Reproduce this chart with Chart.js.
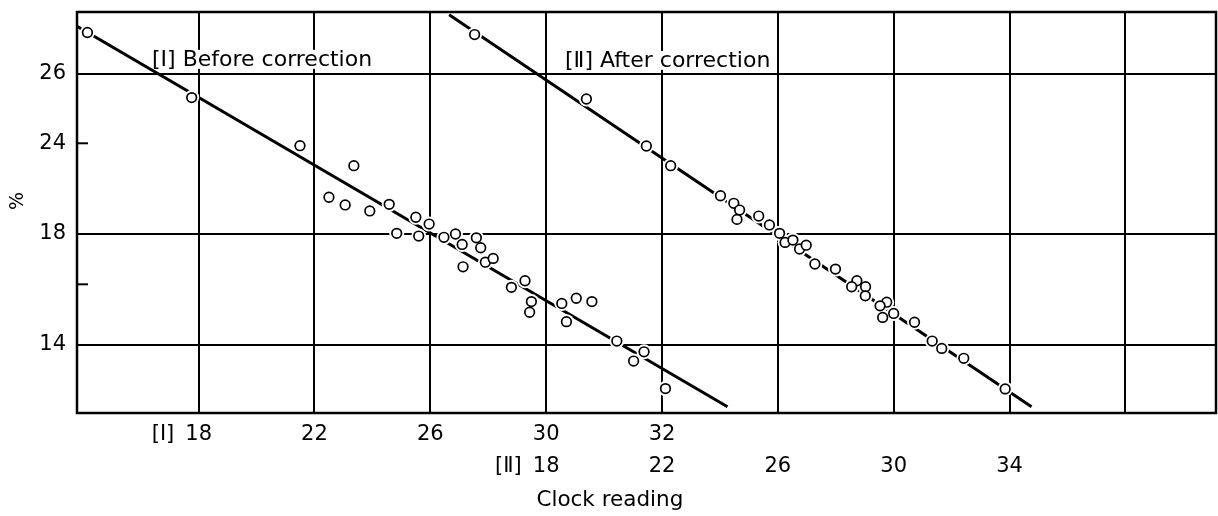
<!DOCTYPE html>
<html>
<head>
<meta charset="utf-8">
<script src="https://cdn.jsdelivr.net/npm/chart.js@4.4.1/dist/chart.umd.min.js"></script>
<style>
  html, body { margin: 0; padding: 0; background: #fff; }
  #wrap { width: 1218px; height: 516px; }
</style>
</head>
<body>
<div id="wrap"><canvas id="chart"></canvas></div>
<script>
// --- 1. Data ---
// [I] before correction: clock reading (scale I) vs moisture %
const beforeClock = [14.16, 17.76, 21.50, 23.36, 22.50, 23.06, 23.91, 24.58, 25.50, 25.96, 24.84,
  25.60, 26.47, 26.87, 27.10, 27.59, 27.74, 27.13, 27.90, 28.17, 28.80, 29.27, 29.49, 29.43,
  30.27, 30.52, 30.79, 30.35, 31.22, 31.69, 31.51, 32.06];
const beforeMoisture = [27.20, 25.31, 23.84, 22.51, 20.41, 19.90, 19.50, 19.94, 19.08, 18.63, 18.01,
  17.90, 17.85, 17.98, 17.57, 17.83, 17.44, 16.69, 16.87, 17.02, 15.90, 16.14, 15.43, 15.08,
  15.37, 15.54, 15.43, 14.77, 14.13, 13.78, 13.48, 12.59];

// [II] after correction: clock reading (scale II) vs moisture %
const afterClock = [15.53, 19.39, 21.46, 22.30, 24.02, 24.48, 24.68, 24.59, 25.34, 25.71, 26.06,
  26.25, 26.52, 26.75, 26.98, 27.28, 27.99, 28.73, 28.55, 29.03, 29.02, 29.76, 29.53, 30.00,
  29.62, 30.72, 31.33, 31.66, 32.42, 33.85];
const afterMoisture = [27.14, 25.27, 23.82, 22.51, 20.51, 20.01, 19.56, 18.94, 19.16, 18.57, 18.01,
  17.65, 17.74, 17.39, 17.54, 16.80, 16.60, 16.14, 15.92, 15.92, 15.62, 15.41, 15.29, 15.04,
  14.91, 14.75, 14.13, 13.89, 13.57, 12.58];

// fitted straight lines (end points)
const beforeFitClock = [13.8, 33.13];
const beforeFitMoisture = [27.38, 12.0];
const afterFitClock = [14.65, 34.76];
const afterFitMoisture = [27.72, 12.0];

// tick labels
const moistureTicks = [14, 16, 18, 24, 26];
const moistureLabels = ["14", "", "18", "24", "26"];
const moistureGrid = [14, 18, 26];
const clockTicksI = [18, 22, 26, 30, 32];
const clockTicksII = [18, 22, 26, 30, 34];
const clockGridII = [6, 10, 14, 18, 22, 26, 30, 34, 38];

const notes = [
  { text: "[Ⅰ] Before correction", clock: 4.39, moisture: 26.40 },
  { text: "[Ⅱ] After correction", clock: 18.65, moisture: 26.37 }
];

// --- 2. Axis geometry: the printed scales are not evenly spaced ---
const rangeII = [1.8, 41.13];
const fracII = v => (v - rangeII[0]) / (rangeII[1] - rangeII[0]);
const knots = {
  // scale I lines up with scale II: I 30 = II 18, I 32 = II 22
  x: { values: [13.8, 30, 32, 41.56], frac: [1.8, 18, 22, 41.13].map(fracII) },
  y: { values: [11.8, 14, 16, 18, 24, 26, 27.8], frac: [0, 0.1696, 0.3209, 0.4476, 0.6726, 0.8466, 1] }
};

function interp(xs, ys, v) {
  let i = 1;
  while (i < xs.length - 1 && v > xs[i]) i++;
  return ys[i - 1] + (v - xs[i - 1]) * (ys[i] - ys[i - 1]) / (xs[i] - xs[i - 1]);
}

class KnotScale extends Chart.LinearScale {
  static id = "knots";
  getPixelForValue(v) {
    if (v === null || v === undefined) return NaN;
    const k = knots[this.id];
    return this.getPixelForDecimal(interp(k.values, k.frac, v));
  }
  getValueForPixel(p) {
    const k = knots[this.id];
    return interp(k.frac, k.values, this.getDecimalForPixel(p));
  }
}
Chart.register(KnotScale);

// --- 3. Styling ---
const FONT = "'DejaVu Sans'";
Chart.defaults.font.family = FONT;
Chart.defaults.color = "#000";
const TICK_SIZE = 21;
const PAD_I = 9.4, PAD_II = 10.4;

const toXY = (xs, ys) => xs.map((x, i) => ({ x: x, y: ys[i] }));
const dots = { pointRadius: 4.8, pointHoverRadius: 4.8, pointBorderWidth: 1.7, pointBackgroundColor: "#fff", pointBorderColor: "#000", order: 0 };
const halo = { pointRadius: 7.5, pointHoverRadius: 7.5, pointBorderWidth: 0, pointBackgroundColor: "#fff", pointBorderColor: "#fff", order: 1 };
const fit = { showLine: true, borderColor: "#000", borderWidth: 3, pointRadius: 0, pointHoverRadius: 0, order: 2 };

// no extra room for half labels at the ends of the axes
const noPad = s => { s.paddingTop = 0; s.paddingBottom = 0; s.paddingLeft = 0; s.paddingRight = 0; };

// frame, short ticks, notes and extra labels
const decor = {
  id: "decor",
  beforeDatasetsDraw(chart) {
    const { ctx, chartArea: a, scales } = chart;
    ctx.save();
    ctx.strokeStyle = "#000";
    ctx.lineWidth = 2.5;
    ctx.strokeRect(a.left, a.top, a.right - a.left, a.bottom - a.top);

    ctx.lineWidth = 2;
    moistureTicks.filter(v => !moistureGrid.includes(v)).forEach(v => {
      const y = scales.y.getPixelForValue(v);
      ctx.beginPath();
      ctx.moveTo(a.left, y);
      ctx.lineTo(a.left + 11, y);
      ctx.stroke();
    });

    ctx.font = "22px " + FONT;
    ctx.textBaseline = "middle";
    ctx.textAlign = "left";
    notes.forEach(n => {
      const x = scales.x2.getPixelForValue(n.clock);
      const y = scales.y.getPixelForValue(n.moisture);
      const w = ctx.measureText(n.text).width;
      ctx.fillStyle = "#fff";
      ctx.fillRect(x - 2, y - 10, w + 4, 19);
      ctx.fillStyle = "#000";
      ctx.fillText(n.text, x, y);
    });
    ctx.restore();
  },
  afterDraw(chart) {
    const { ctx, chartArea: a, scales } = chart;
    ctx.save();
    ctx.fillStyle = "#000";
    ctx.textBaseline = "middle";

    // [I] / [II] in front of the first label of each row
    ctx.font = TICK_SIZE + "px " + FONT;
    ctx.textAlign = "right";
    const lh = TICK_SIZE * 1.2 / 2;
    const rows = [
      { s: scales.x, first: clockTicksI[0], pad: PAD_I, tag: "[Ⅰ]" },
      { s: scales.x2, first: clockTicksII[0], pad: PAD_II, tag: "[Ⅱ]" }
    ];
    rows.forEach(r => {
      const half = ctx.measureText(String(r.first)).width / 2;
      ctx.fillText(r.tag, r.s.getPixelForValue(r.first) - half - 11, r.s.top + r.pad + lh);
    });

    ctx.textAlign = "center";
    ctx.font = "21.5px " + FONT;
    ctx.fillText("Clock reading", scales.x2.getPixelForValue(20.2), scales.x2.top + 56);

    ctx.font = "19px " + FONT;
    ctx.translate(18, a.top + 189);
    ctx.rotate(-Math.PI / 2);
    ctx.fillText("%", 0, 0);
    ctx.restore();
  }
};

// --- 4. Chart ---
new Chart(document.getElementById("chart"), {
  type: "scatter",
  data: {
    datasets: [
      { ...fit, label: "Before fit", data: toXY(beforeFitClock, beforeFitMoisture), xAxisID: "x" },
      { ...fit, label: "After fit", data: toXY(afterFitClock, afterFitMoisture), xAxisID: "x2" },
      { ...halo, label: "h1", data: toXY(beforeClock, beforeMoisture), xAxisID: "x" },
      { ...halo, label: "h2", data: toXY(afterClock, afterMoisture), xAxisID: "x2" },
      { ...dots, label: "Before correction", data: toXY(beforeClock, beforeMoisture), xAxisID: "x" },
      { ...dots, label: "After correction", data: toXY(afterClock, afterMoisture), xAxisID: "x2" }
    ]
  },
  options: {
    responsive: true,
    maintainAspectRatio: false,
    devicePixelRatio: 1,
    animation: false,
    events: [],
    layout: { autoPadding: false, padding: { top: 12, right: 2, left: 0, bottom: 0 } },
    plugins: { legend: { display: false }, tooltip: { enabled: false } },
    scales: {
      x: {
        type: "knots",
        position: "bottom",
        weight: 0,
        bounds: "data",
        min: knots.x.values[0],
        max: knots.x.values[knots.x.values.length - 1],
        afterBuildTicks: s => { s.ticks = clockTicksI.map(v => ({ value: v })); },
        afterFit: s => { s.height = 31; noPad(s); },
        grid: { display: false, drawTicks: false },
        border: { display: false },
        ticks: { padding: PAD_I, font: { size: TICK_SIZE }, color: "#000", maxRotation: 0, autoSkip: false,
          callback: v => String(v) }
      },
      x2: {
        type: "linear",
        position: "bottom",
        weight: 1,
        bounds: "data",
        min: rangeII[0],
        max: rangeII[1],
        afterBuildTicks: s => { s.ticks = clockGridII.map(v => ({ value: v })); },
        afterFit: s => { s.height = 72; noPad(s); },
        grid: { color: "#000", lineWidth: 2, drawTicks: false },
        border: { display: false },
        ticks: { padding: PAD_II, font: { size: TICK_SIZE }, color: "#000", maxRotation: 0, autoSkip: false,
          callback: v => clockTicksII.includes(v) ? String(v) : "" }
      },
      y: {
        type: "knots",
        position: "left",
        bounds: "data",
        min: knots.y.values[0],
        max: knots.y.values[knots.y.values.length - 1],
        afterBuildTicks: s => { s.ticks = moistureTicks.map(v => ({ value: v })); },
        afterFit: s => { s.width = 77; noPad(s); },
        grid: {
          color: c => moistureGrid.includes(c.tick.value) ? "#000" : "rgba(0,0,0,0)",
          lineWidth: 2,
          drawTicks: false
        },
        border: { display: false },
        ticks: { padding: 11, font: { size: TICK_SIZE }, color: "#000", autoSkip: false,
          callback: v => moistureLabels[moistureTicks.indexOf(v)] }
      }
    }
  },
  plugins: [decor]
});
</script>
</body>
</html>
